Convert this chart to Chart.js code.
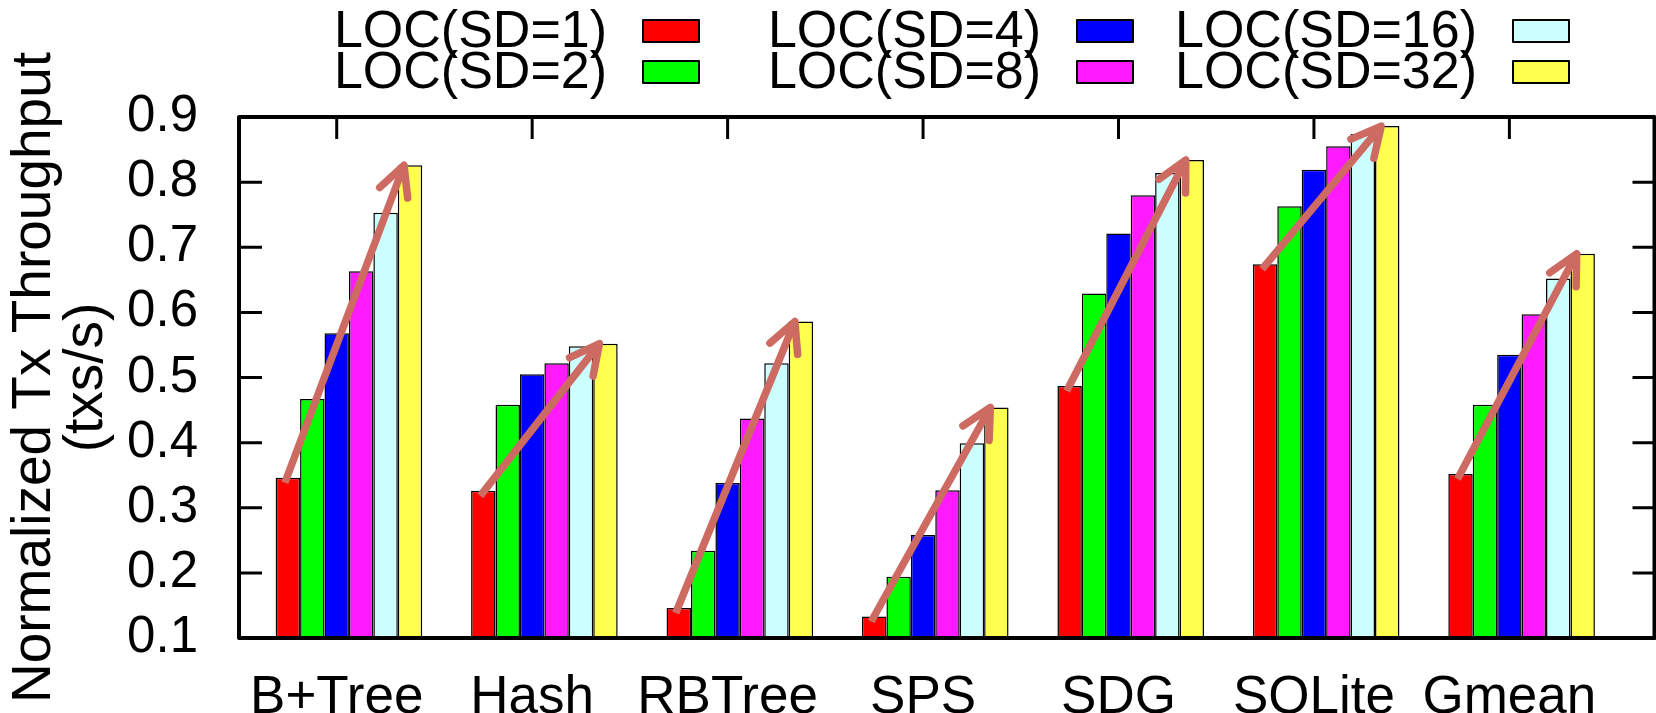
<!DOCTYPE html>
<html>
<head>
<meta charset="utf-8">
<script src="https://cdn.jsdelivr.net/npm/chart.js@4.4.1/dist/chart.umd.min.js"></script>
<style>
  html, body { margin: 0; padding: 0; background: #fff; }
  canvas { display: block; }
</style>
</head>
<body>
<canvas id="chart" width="1656" height="713"></canvas>
<script>
// DATA TO DISPLAY
const categories = ['B+Tree', 'Hash', 'RBTree', 'SPS', 'SDG', 'SQLite', 'Gmean'];
const seriesNames = ['LOC(SD=1)', 'LOC(SD=2)', 'LOC(SD=4)', 'LOC(SD=8)', 'LOC(SD=16)', 'LOC(SD=32)'];
const sd1  = [0.346, 0.326, 0.146, 0.133, 0.487, 0.674, 0.352];
const sd2  = [0.467, 0.458, 0.234, 0.194, 0.629, 0.763, 0.458];
const sd4  = [0.568, 0.505, 0.338, 0.258, 0.721, 0.819, 0.535];
const sd8  = [0.663, 0.522, 0.437, 0.327, 0.780, 0.855, 0.597];
const sd16 = [0.753, 0.548, 0.522, 0.399, 0.814, 0.874, 0.652];
const sd32 = [0.826, 0.552, 0.586, 0.454, 0.834, 0.886, 0.690];
const yTicks = [0.1, 0.2, 0.3, 0.4, 0.5, 0.6, 0.7, 0.8, 0.9];

const series = [sd1, sd2, sd4, sd8, sd16, sd32];
const colors = ['#ff0000', '#00ff00', '#0000ff', '#ff1aff', '#ccffff', '#ffff4d'];
const arrowColor = '#cd6a62';
const FONT = '"Liberation Sans", Arial, Helvetica, sans-serif';

Chart.defaults.font.family = FONT;
Chart.defaults.color = '#000';

// frame, inward ticks, trend arrows and the key, gnuplot style
const gnuplotDecor = {
  id: 'gnuplotDecor',
  afterDatasetsDraw(chart) {
    const { ctx, chartArea: a, scales: { x, y } } = chart;
    ctx.save();

    // arrows from the SD=1 bar to the SD=32 bar of each group
    const first = chart.getDatasetMeta(0);
    const last = chart.getDatasetMeta(series.length - 1);
    ctx.strokeStyle = arrowColor;
    ctx.lineWidth = 7.5;
    categories.forEach((c, i) => {
      const r = first.data[i], g = last.data[i];
      const x0 = r.x - 3, y0 = r.y + 5;
      const x1 = g.x - 6, y1 = g.y;
      const ang = Math.atan2(y0 - y1, x0 - x1);
      ctx.lineCap = 'butt';
      ctx.beginPath();
      ctx.moveTo(x0, y0);
      ctx.lineTo(x1, y1);
      ctx.stroke();
      ctx.lineCap = 'round';
      ctx.lineJoin = 'round';
      ctx.beginPath();
      ctx.moveTo(x1 + 33 * Math.cos(ang + 0.47), y1 + 33 * Math.sin(ang + 0.47));
      ctx.lineTo(x1, y1);
      ctx.lineTo(x1 + 33 * Math.cos(ang - 0.47), y1 + 33 * Math.sin(ang - 0.47));
      ctx.stroke();
    });

    // frame
    ctx.strokeStyle = '#000';
    ctx.lineCap = 'butt';
    ctx.lineWidth = 4;
    ctx.strokeRect(a.left, a.top, a.right - a.left, a.bottom - a.top);

    // inward tick marks
    ctx.lineWidth = 3;
    ctx.beginPath();
    y.ticks.forEach(t => {
      const py = y.getPixelForValue(t.value);
      ctx.moveTo(a.left, py); ctx.lineTo(a.left + 23, py);
      ctx.moveTo(a.right, py); ctx.lineTo(a.right - 22, py);
    });
    x.ticks.forEach(t => {
      const px = x.getPixelForValue(t.value);
      ctx.moveTo(px, a.top); ctx.lineTo(px, a.top + 22);
    });
    ctx.stroke();

    // key: 3 columns x 2 rows, text then swatch
    const textRight = [607, 1041, 1477];
    const rowY = [31, 72];
    ctx.font = '52px ' + FONT;
    ctx.textAlign = 'right';
    ctx.textBaseline = 'middle';
    ctx.lineWidth = 2;
    seriesNames.forEach((name, k) => {
      const col = Math.floor(k / 2), row = k % 2;
      const tx = textRight[col], ty = rowY[row];
      ctx.fillStyle = '#000';
      ctx.fillText(name, tx, ty + 2);
      ctx.fillStyle = colors[k];
      ctx.fillRect(tx + 36, ty - 11, 56, 22);
      ctx.strokeRect(tx + 36, ty - 11, 56, 22);
    });

    ctx.restore();
  }
};

// CONFIGURE THE CHART
const cfg = {
  type: 'bar',
  data: {
    datasets: seriesNames.map((name, k) => ({
      label: name,
      data: series[k].map((v, i) => ({ x: i, y: v })),
      backgroundColor: colors[k],
      borderColor: '#000',
      borderWidth: 1.5,
      categoryPercentage: 0.75,
      barPercentage: 1
    }))
  },
  options: {
    responsive: false,
    animation: false,
    devicePixelRatio: 1,
    layout: { padding: { left: 0, right: 1.5, top: 117, bottom: 0 } },
    plugins: {
      legend: { display: false },
      tooltip: { enabled: false }
    },
    scales: {
      x: {
        type: 'linear',
        min: -0.5625,
        max: 6.68,
        offset: false,
        grid: { display: false, offset: false },
        border: { display: false },
        afterBuildTicks: s => { s.ticks = categories.map((c, i) => ({ value: i - 1 / 16 })); },
        ticks: {
          autoSkip: false,
          maxRotation: 0,
          padding: 21,
          font: { size: 53, lineHeight: 1.2 },
          callback: (v, i) => categories[i]
        },
        afterFit: s => { s.height = 75; }
      },
      y: {
        min: 0.1,
        max: 0.9,
        grid: { display: false },
        border: { display: false },
        afterBuildTicks: s => { s.ticks = yTicks.map(v => ({ value: v })); },
        ticks: {
          autoSkip: false,
          padding: 33,
          font: { size: 51, lineHeight: 1.0 },
          callback: v => v.toFixed(1)
        },
        title: {
          display: true,
          text: ['Normalized Tx Throughput', '(txs/s)'],
          font: { size: 55, lineHeight: 0.96 },
          padding: { top: 8, bottom: 0 }
        },
        afterFit: s => { s.width = 239; }
      }
    }
  },
  plugins: [gnuplotDecor]
};

// CREATE THE CHART
new Chart(document.getElementById('chart'), cfg);
</script>
</body>
</html>
